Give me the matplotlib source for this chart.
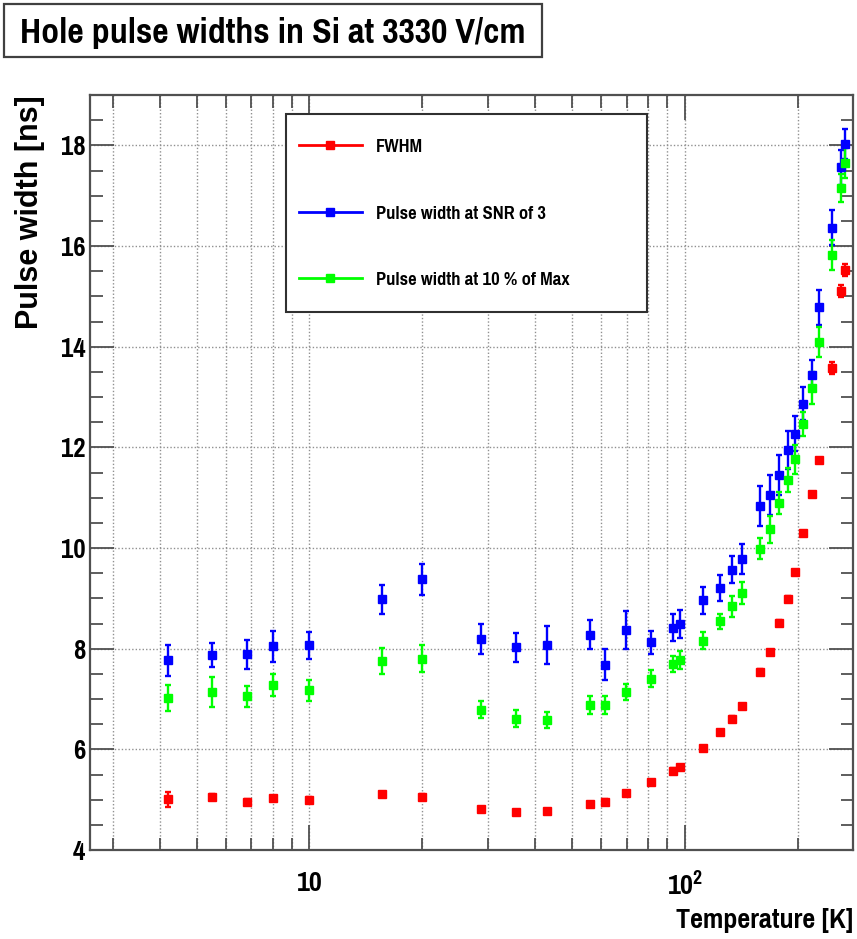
import os
import matplotlib
matplotlib.use("Agg")
import matplotlib.pyplot as plt
from matplotlib import font_manager
from matplotlib.lines import Line2D
from matplotlib.patches import Rectangle
from matplotlib.ticker import FixedLocator, FuncFormatter, MultipleLocator

# temperatures [K], shared by all three series
temps = [4.2, 5.5, 6.8, 8.0, 10.0, 15.6, 20.0, 28.7, 35.6, 42.9, 55.8, 61.4, 69.6,
         81.5, 92.9, 97.0, 112, 124, 133.7, 142, 158.5, 168.6, 178.6, 188.4, 197,
         207, 218, 227.5, 247.5, 261, 267]

fwhm = [5.01, 5.06, 4.96, 5.03, 5.00, 5.11, 5.06, 4.81, 4.75, 4.77, 4.91, 4.96, 5.13,
        5.35, 5.57, 5.64, 6.02, 6.34, 6.61, 6.86, 7.54, 7.93, 8.51, 8.99, 9.52,
        10.29, 11.07, 11.74, 13.58, 15.10, 15.52]
fwhm_err = [0.15, 0.05, 0.05, 0.05, 0.05, 0.05, 0.05, 0.05, 0.05, 0.05, 0.05, 0.05, 0.05,
            0.05, 0.05, 0.05, 0.05, 0.05, 0.05, 0.05, 0.05, 0.05, 0.05, 0.05, 0.05,
            0.05, 0.05, 0.05, 0.12, 0.12, 0.12]

snr3 = [7.77, 7.88, 7.89, 8.05, 8.07, 8.98, 9.38, 8.20, 8.03, 8.08, 8.28, 7.68, 8.37,
        8.13, 8.42, 8.49, 8.96, 9.20, 9.57, 9.78, 10.83, 11.05, 11.45, 11.94, 12.27,
        12.87, 13.43, 14.78, 16.36, 17.56, 18.03]
snr3_err = [0.31, 0.24, 0.29, 0.31, 0.27, 0.29, 0.31, 0.30, 0.29, 0.38, 0.28, 0.31, 0.38,
            0.23, 0.27, 0.27, 0.27, 0.26, 0.27, 0.30, 0.40, 0.40, 0.40, 0.38, 0.35,
            0.32, 0.31, 0.35, 0.35, 0.35, 0.30]

max10 = [7.02, 7.14, 7.05, 7.27, 7.17, 7.76, 7.80, 6.79, 6.61, 6.59, 6.88, 6.88, 7.14,
         7.40, 7.70, 7.78, 8.16, 8.54, 8.84, 9.11, 9.99, 10.37, 10.89, 11.35, 11.76,
         12.47, 13.18, 14.09, 15.82, 17.15, 17.65]
max10_err = [0.25, 0.29, 0.21, 0.22, 0.20, 0.26, 0.27, 0.17, 0.17, 0.16, 0.17, 0.18, 0.16,
             0.17, 0.16, 0.18, 0.17, 0.15, 0.21, 0.22, 0.20, 0.27, 0.22, 0.23, 0.29,
             0.24, 0.31, 0.30, 0.30, 0.28, 0.30]

labels = ["FWHM", "Pulse width at SNR of 3", "Pulse width at 10 % of Max"]
colors = ["#ff0000", "#0000ff", "#00ff00"]

# pick a bold narrow grotesque (the original is a squeezed Helvetica Bold)
wanted = ["PTSansNarrow-Bold.ttf", "PragatiNarrow-Bold.ttf", "RobotoCondensed-Bold.ttf",
          "ArchivoNarrow-Bold.ttf", "IBMPlexSansCondensed-Bold.ttf", "FiraSansCondensed-Bold.ttf",
          "AsapCondensed-Bold.ttf", "BarlowSemiCondensed-Bold.ttf"]
files = {os.path.basename(f.fname): f.name for f in font_manager.fontManager.ttflist}
fam = "Liberation Sans"
for w in wanted:
    if w in files:
        fam = files[w]
        break

plt.rcParams["font.family"] = [fam, "DejaVu Sans"]
plt.rcParams["font.weight"] = "bold"
plt.rcParams["mathtext.fontset"] = "custom"
plt.rcParams["mathtext.rm"] = fam + ":bold"
plt.rcParams["mathtext.bf"] = fam + ":bold"
plt.rcParams["mathtext.it"] = fam + ":bold"

W, H = 857, 939
fig = plt.figure(figsize=(W / 100, H / 100), dpi=100)
ax = fig.add_axes([90 / W, 1 - 850 / H, 763 / W, 755 / H])

series = [(fwhm, fwhm_err), (snr3, snr3_err), (max10, max10_err)]
for (vals, errs), c in zip(series, colors):
    ax.errorbar(temps, vals, yerr=errs, fmt="s", color=c, ms=5.7, mec=c,
                elinewidth=1.7, capsize=2.5, capthick=1.7, zorder=3)

ax.set_xscale("log")
ax.set_xlim(2.6, 281)
ax.set_ylim(4, 19)

ax.xaxis.set_major_locator(FixedLocator([10, 100]))
ax.xaxis.set_minor_locator(FixedLocator([3, 4, 5, 6, 7, 8, 9, 20, 30, 40, 50, 60, 70, 80, 90, 200]))
ax.xaxis.set_major_formatter(FuncFormatter(lambda v, p: "10" if v < 50 else r"$10^{2}$"))
ax.xaxis.set_minor_formatter(FuncFormatter(lambda v, p: ""))
ax.yaxis.set_major_locator(MultipleLocator(2))
ax.yaxis.set_minor_locator(MultipleLocator(0.5))

frame = "#505050"
for s in ax.spines.values():
    s.set_color(frame)
    s.set_linewidth(1.6)

ax.tick_params(which="both", direction="in", top=True, right=True, color=frame, width=1.3)
ax.tick_params(axis="x", which="major", length=18, pad=15, labelsize=22)
ax.tick_params(axis="x", which="minor", length=9)
ax.tick_params(axis="y", which="major", length=17, pad=3.5, labelsize=21)
ax.tick_params(axis="y", which="minor", length=9)

ax.grid(True, which="major", axis="y", color="#909090", linestyle=(0, (1, 1.5)), linewidth=1)
ax.grid(True, which="both", axis="x", color="#909090", linestyle=(0, (1, 1.5)), linewidth=1)
ax.set_axisbelow(True)

# legend: frame drawn as a box, entries placed inside it
ax.add_patch(Rectangle(((286 - 90) / 763, (850 - 312) / 755), (647 - 286) / 763, (312 - 114) / 755,
                       transform=ax.transAxes, facecolor="white", edgecolor="#303030",
                       linewidth=1.5, zorder=4))
handles = [Line2D([], [], color=c, lw=2, marker="s", ms=5.5) for c in colors]
lfs = 14.5
leg = ax.legend(handles, labels, loc="upper left", bbox_to_anchor=((299 - 90) / 763, (850 - 138) / 755),
                frameon=False, borderpad=0, borderaxespad=0, handlelength=63 / (lfs * 1.389),
                handletextpad=14 / (lfs * 1.389), labelspacing=49.5 / (lfs * 1.389),
                prop={"size": lfs, "weight": "bold"})
leg.set_zorder(5)

# title box
fig.patches.append(Rectangle((4 / W, 1 - 57 / H), 538 / W, 53 / H, transform=fig.transFigure,
                             facecolor="white", edgecolor="#404040", linewidth=1.6))
fig.text(273 / W, 1 - 43 / H, "Hole pulse widths in Si at 3330 V/cm", ha="center", va="baseline",
         fontsize=28, fontweight="bold")

fig.text(30 / W, 1 - 95 / H, "Pulse width [ns]", rotation=90, ha="center", va="top",
         fontsize=22, fontweight="bold", family=["Liberation Sans", "DejaVu Sans"])
fig.text(853 / W, 1 - 928 / H, "Temperature [K]", ha="right", va="baseline",
         fontsize=22, fontweight="bold")

fig.savefig("out.png", dpi=100)
